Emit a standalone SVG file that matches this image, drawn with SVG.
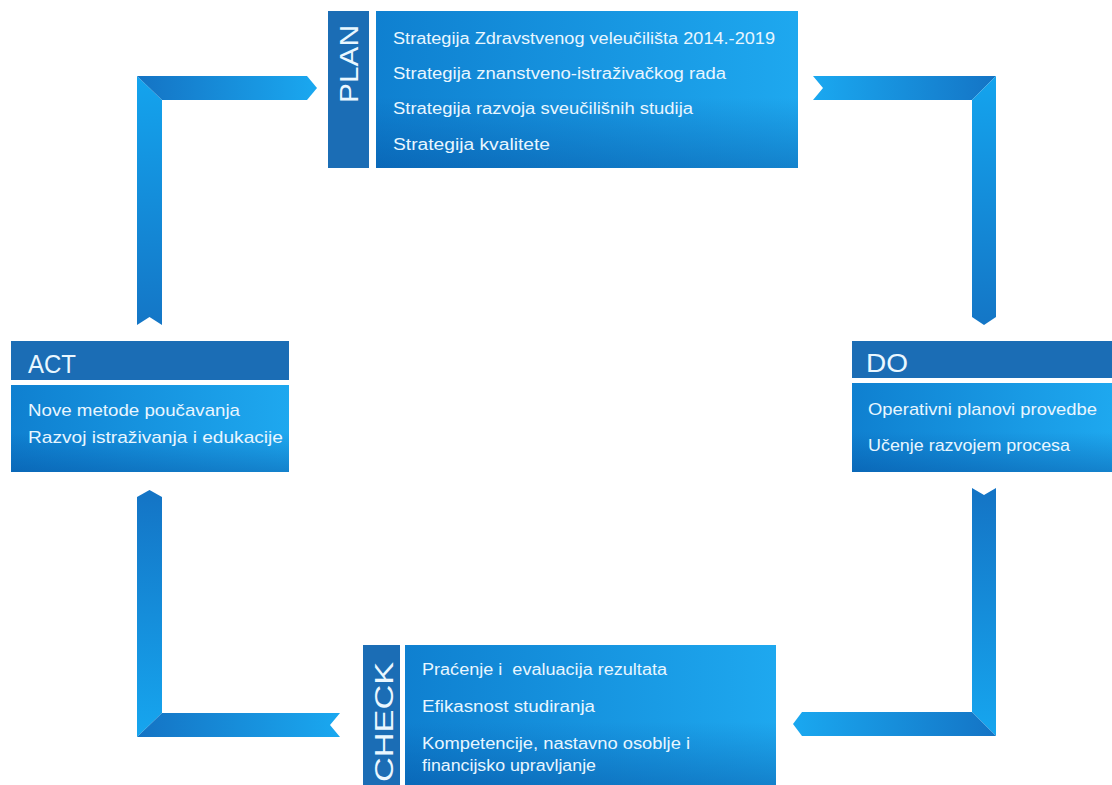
<svg xmlns="http://www.w3.org/2000/svg" width="1112" height="785" viewBox="0 0 1112 785">
<defs>
<linearGradient id="boxH" x1="0" y1="0" x2="1" y2="0">
<stop offset="0" stop-color="#0f80d0"/>
<stop offset="1" stop-color="#1ea8ef"/>
</linearGradient>
<linearGradient id="shade" x1="0" y1="0" x2="0" y2="1">
<stop offset="0" stop-color="#003c8c" stop-opacity="0"/>
<stop offset="0.55" stop-color="#003c8c" stop-opacity="0"/>
<stop offset="1" stop-color="#003c8c" stop-opacity="0.35"/>
</linearGradient>
<linearGradient id="dl" x1="0" y1="0" x2="1" y2="0"><stop offset="0" stop-color="#1473c4"/><stop offset="1" stop-color="#1aa8f0"/></linearGradient>
<linearGradient id="ld" x1="0" y1="0" x2="1" y2="0"><stop offset="0" stop-color="#1aa8f0"/><stop offset="1" stop-color="#1474c5"/></linearGradient>
<linearGradient id="tb" x1="0" y1="0" x2="0" y2="1"><stop offset="0" stop-color="#14a4ee"/><stop offset="1" stop-color="#1476c6"/></linearGradient>
<linearGradient id="bt" x1="0" y1="0" x2="0" y2="1"><stop offset="0" stop-color="#1474c5"/><stop offset="1" stop-color="#16a6ef"/></linearGradient>
</defs>
<style>
.tab{fill:#1b6db5}
.body{fill:url(#boxH)}
.shade{fill:url(#shade)}
.t{font-family:"Liberation Sans Narrow","Liberation Sans",Arial,sans-serif;fill:#e8f6ff;font-size:16px}
.tb{font-size:17px}
.h{font-family:"Liberation Sans","Noto Sans",sans-serif;fill:#eaf7ff;font-size:25px}
</style>
<rect width="1112" height="785" fill="#ffffff"/>

<g id="connectors">
<!-- top-left: ACT -> PLAN -->
<polygon points="137,76 162,100 162,325 149.5,317 137,325" fill="url(#tb)"/>
<polygon points="137,76 307,76 317,88 307,100 162,100" fill="url(#dl)"/>
<!-- top-right: PLAN -> DO -->
<polygon points="813,76 996,76 972,100 813,100 823,88" fill="url(#ld)"/>
<polygon points="996,76 996,317 984,325 972,317 972,100" fill="url(#tb)"/>
<!-- bottom-right: DO -> CHECK -->
<polygon points="972,488 984,495 996,488 996,736 972,712" fill="url(#bt)"/>
<polygon points="802,712 972,712 996,736 802,736 793,724" fill="url(#ld)"/>
<!-- bottom-left: CHECK -> ACT -->
<polygon points="137,497 149.5,490 162,497 162,713 137,737" fill="url(#bt)"/>
<polygon points="162,713 340,713 330,725 340,737 137,737" fill="url(#dl)"/>
</g>

<g id="node-plan">
<rect class="tab" x="328" y="11" width="41" height="157"/>
<text class="h" transform="translate(358,64) rotate(-90)" text-anchor="middle" font-size="26" textLength="78" lengthAdjust="spacingAndGlyphs">PLAN</text>
<rect class="body" x="376" y="11" width="422" height="157"/>
<rect class="shade" x="376" y="11" width="422" height="157"/>
<text class="t" x="393" y="44" textLength="382" lengthAdjust="spacingAndGlyphs">Strategija Zdravstvenog veleučilišta 2014.-2019</text>
<text class="t" x="393" y="79" textLength="333" lengthAdjust="spacingAndGlyphs">Strategija znanstveno-istraživačkog rada</text>
<text class="t" x="393" y="114" textLength="300" lengthAdjust="spacingAndGlyphs">Strategija razvoja sveučilišnih studija</text>
<text class="t" x="393" y="150" textLength="157" lengthAdjust="spacingAndGlyphs">Strategija kvalitete</text>
</g>

<g id="node-act">
<rect class="tab" x="11" y="341" width="278" height="39"/>
<text class="h" x="28" y="373" textLength="48" lengthAdjust="spacingAndGlyphs">ACT</text>
<rect class="body" x="11" y="385" width="278" height="87"/>
<rect class="shade" x="11" y="385" width="278" height="87"/>
<text class="t tb" x="28" y="416" textLength="212" lengthAdjust="spacingAndGlyphs">Nove metode poučavanja</text>
<text class="t tb" x="28" y="443" textLength="255" lengthAdjust="spacingAndGlyphs">Razvoj istraživanja i edukacije</text>
</g>

<g id="node-do">
<rect class="tab" x="852" y="341" width="260" height="37"/>
<text class="h" x="866" y="372" textLength="42" lengthAdjust="spacingAndGlyphs">DO</text>
<rect class="body" x="852" y="383" width="260" height="89"/>
<rect class="shade" x="852" y="383" width="260" height="89"/>
<text class="t tb" x="868" y="415" textLength="229" lengthAdjust="spacingAndGlyphs">Operativni planovi provedbe</text>
<text class="t tb" x="868" y="451" textLength="202" lengthAdjust="spacingAndGlyphs">Učenje razvojem procesa</text>
</g>

<g id="node-check">
<rect class="tab" x="363" y="645" width="37" height="140"/>
<text class="h" transform="translate(393,722) rotate(-90)" text-anchor="middle" font-size="28" textLength="120" lengthAdjust="spacingAndGlyphs">CHECK</text>
<rect class="body" x="405" y="645" width="371" height="140"/>
<rect class="shade" x="405" y="645" width="371" height="140"/>
<text class="t" x="422" y="675" textLength="245" lengthAdjust="spacingAndGlyphs" xml:space="preserve" style="white-space:pre">Praćenje i  evaluacija rezultata</text>
<text class="t" x="422" y="712" textLength="173" lengthAdjust="spacingAndGlyphs">Efikasnost studiranja</text>
<text class="t" x="422" y="749" textLength="268" lengthAdjust="spacingAndGlyphs">Kompetencije, nastavno osoblje i</text>
<text class="t" x="422" y="771" textLength="174" lengthAdjust="spacingAndGlyphs">financijsko upravljanje</text>
</g>
</svg>
